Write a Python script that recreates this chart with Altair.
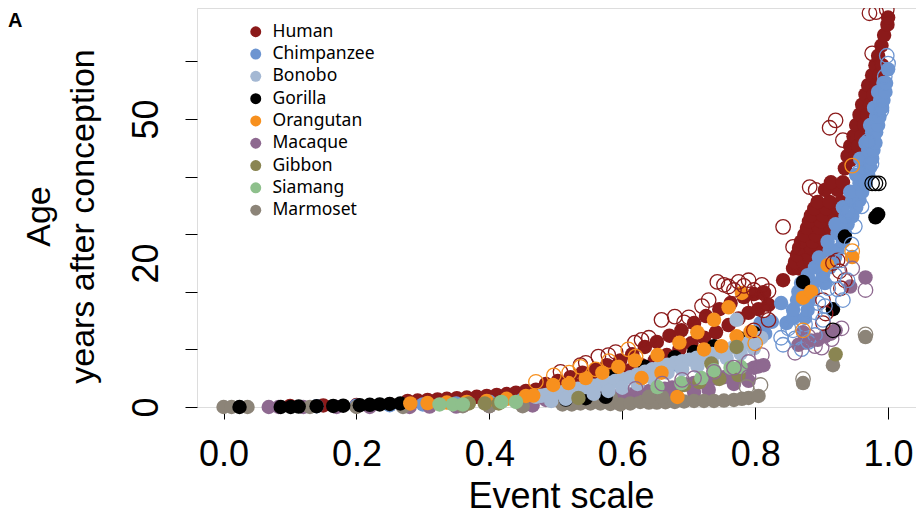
import altair as alt
import pandas as pd

SPECIES = ["Human", "Chimpanzee", "Bonobo", "Gorilla", "Orangutan",
           "Macaque", "Gibbon", "Siamang", "Marmoset"]
COLORS = ["#8B1A1A", "#6D95D1", "#A4B8D3", "#000000", "#F7901E",
          "#8E6990", "#8A8552", "#8EC08C", "#8C8478"]
DRAW_ORDER = ["Human", "Chimpanzee", "Macaque", "Marmoset", "Gorilla",
              "Bonobo", "Orangutan", "Gibbon", "Siamang"]
PANEL_LABEL = ["A"]

X_TICKS = [0.0, 0.2, 0.4, 0.6, 0.8, 1.0]
Y_TICKS = [0, 5.95, 14.88, 20, 25.44, 37.22, 50, 63.6]
Y_LABELS = [0, 20, 50]

# (event scale, age in years after conception)
HUMAN_FILLED = [
    (0.10, 0.03), (0.15, 0.05), (0.20, 0.07), (0.25, 0.1),
    (0.277, 0.3), (0.292, 0.33), (0.307, 0.37), (0.322, 0.41), (0.336, 0.45),
    (0.351, 0.5), (0.366, 0.55), (0.381, 0.6), (0.396, 0.67), (0.411, 0.75),
    (0.426, 0.83), (0.44, 0.95), (0.455, 1.1), (0.47, 1.22),
    (0.485, 1.77), (0.503, 2.07), (0.522, 2.5), (0.540, 3.0), (0.560, 3.4),
    (0.577, 3.9), (0.597, 4.5), (0.615, 5.3), (0.634, 6.3), (0.652, 7.0),
    (0.671, 7.9), (0.689, 8.7), (0.708, 9.8), (0.726, 10.9), (0.746, 12.0),
    (0.763, 13.0), (0.783, 14.0), (0.798, 14.5), (0.8125, 14.7),
    (0.500, 1.18), (0.518, 1.37), (0.537, 1.67), (0.555, 1.97), (0.574, 2.4),
    (0.592, 2.85), (0.612, 3.3), (0.629, 3.9), (0.649, 4.5), (0.667, 5.2),
    (0.686, 5.95), (0.704, 6.8), (0.723, 7.6), (0.741, 8.4), (0.760, 9.5),
    (0.775, 10.5), (0.790, 11.4), (0.805, 12.0), (0.820, 12.7),
    (0.842, 16.9),
    (0.857, 19.0), (0.866, 19.0), (0.875, 19.0),
    (0.860, 20.2), (0.872, 20.2), (0.884, 20.2),
    (0.863, 21.5), (0.881, 21.5), (0.897, 21.5),
    (0.866, 22.8), (0.884, 22.8), (0.900, 22.8),
    (0.869, 24.0), (0.887, 24.0), (0.905, 24.0),
    (0.874, 25.3), (0.891, 25.3), (0.909, 25.3),
    (0.878, 26.7), (0.896, 26.7), (0.914, 26.7),
    (0.881, 28.0), (0.899, 28.0), (0.917, 28.0),
    (0.884, 29.2), (0.902, 29.2), (0.920, 29.2),
    (0.889, 30.6), (0.907, 30.6), (0.925, 30.6),
    (0.894, 31.9), (0.912, 31.9), (0.929, 31.9),
    (0.905, 34.4), (0.924, 34.4),
    (0.914, 36.0), (0.932, 36.0),
    (0.935, 39.0), (0.943, 40.8),
    (0.939, 41.7), (0.943, 43.9), (0.948, 46.1), (0.952, 48.6), (0.957, 51.0),
    (0.961, 53.3), (0.966, 55.7), (0.970, 57.9), (0.976, 60.3), (0.981, 62.7),
    (0.985, 65.0), (0.990, 67.5), (0.994, 70.1), (0.999, 72.7), (1.0, 74.5),
    (0.951, 41.7), (0.955, 43.9), (0.960, 46.1), (0.964, 48.6), (0.969, 51.0),
    (0.973, 53.3), (0.978, 55.7), (0.982, 57.9), (0.987, 60.3), (0.991, 62.7),
]
HUMAN_OPEN = [
    (0.507, 3.1), (0.537, 3.9), (0.545, 4.2), (0.564, 5.0), (0.579, 5.2),
    (0.59, 5.6), (0.619, 6.9), (0.629, 7.3), (0.64, 7.6), (0.659, 10.3),
    (0.679, 10.8), (0.693, 9.9), (0.70, 10.7), (0.72, 12.5), (0.73, 13.5),
    (0.743, 16.6), (0.753, 16.1), (0.76, 15.8), (0.768, 15.2), (0.775, 16.6),
    (0.783, 15.9), (0.79, 16.9), (0.798, 15.2), (0.81, 16.1), (0.8125, 14.7),
    (0.82, 15.0), (0.805, 13.5), (0.80, 13.0), (0.8125, 11.8), (0.82, 10.3),
    (0.798, 8.7),
    (0.972, 75.6), (0.982, 75.9), (0.998, 76.5), (0.976, 65.6), (0.912, 48.0),
    (0.921, 49.7), (0.932, 45.2), (0.882, 35.0), (0.891, 34.4), (0.842, 26.9),
    (0.857, 23.0), (0.927, 18.5), (0.902, 13.5), (0.906, 11.3), (0.902, 9.8),
    (0.917, 20.0), (0.924, 20.5), (0.935, 16.9), (0.929, 15.5),
]
CHIMP_FILLED = [
    (0.14, 0.02), (0.20, 0.04), (0.25, 0.06), (0.30, 0.1), (0.35, 0.15),
    (0.40, 0.25), (0.45, 0.4),
    (0.50, 1.0), (0.56, 1.6), (0.62, 2.6), (0.68, 4.0), (0.73, 5.3), (0.78, 7.0),
    (0.79, 7.4), (0.808, 9.8), (0.81, 9.0), (0.815, 8.2), (0.825, 10.0),
    (0.839, 13.0), (0.847, 9.8),
    (0.857, 10.6), (0.875, 10.6),
    (0.857, 11.9), (0.879, 11.9),
    (0.863, 13.5), (0.881, 13.5),
    (0.865, 14.9), (0.887, 14.9),
    (0.869, 16.4), (0.887, 16.4), (0.905, 16.4),
    (0.879, 17.8), (0.902, 17.8),
    (0.890, 19.2), (0.912, 19.2),
    (0.896, 21.0), (0.920, 21.0),
    (0.912, 22.4), (0.924, 22.4),
    (0.909, 24.0), (0.932, 24.0),
    (0.924, 25.6), (0.935, 25.6),
    (0.921, 27.4), (0.939, 27.4),
    (0.936, 29.0), (0.946, 29.0),
    (0.932, 30.8), (0.952, 30.8),
    (0.946, 32.3), (0.957, 32.3),
    (0.943, 34.0), (0.961, 34.0),
    (0.957, 35.8), (0.966, 35.8),
    (0.952, 37.6), (0.970, 37.6),
    (0.964, 39.2), (0.973, 39.2),
    (0.958, 41.1), (0.976, 41.1),
    (0.970, 43.0), (0.978, 43.0),
    (0.966, 44.6), (0.981, 44.6),
    (0.976, 47.0), (0.982, 47.0),
    (0.973, 48.6), (0.985, 48.6),
    (0.982, 50.5), (0.987, 50.5),
    (0.979, 52.6), (0.991, 52.6),
    (0.988, 54.4), (0.993, 54.4),
    (0.985, 56.3), (0.996, 56.3),
    (0.993, 58.4), (0.997, 58.4),
    (1.0, 61.7),
]
CHIMP_OPEN = [
    (0.839, 7.6), (0.857, 8.7), (0.842, 6.6), (0.924, 15.3), (0.939, 16.9),
    (0.932, 13.5), (1.0, 63.1), (0.998, 65.0), (0.89, 8.0), (0.902, 10.3),
    (0.92, 17.8), (0.87, 6.0), (0.88, 7.0), (0.89, 11.5), (0.905, 12.5),
    (0.955, 38.0), (0.97, 45.0), (0.94, 30.0),
    (0.85, 9.0), (0.86, 7.5), (0.875, 9.6), (0.895, 13.0), (0.91, 15.5),
    (0.93, 20.5), (0.945, 23.5), (0.95, 27.0), (0.96, 31.0), (0.965, 36.0),
    (0.975, 40.0), (0.99, 52.0), (0.995, 60.0),
]
BONOBO_FILLED = [
    (0.47, 0.6), (0.478, 0.68), (0.485, 0.75), (0.5, 0.9), (0.511, 1.0),
    (0.522, 1.18), (0.533, 1.3), (0.545, 1.47), (0.556, 1.6), (0.567, 1.77),
    (0.578, 1.9), (0.589, 2.07), (0.6, 2.3), (0.612, 2.5), (0.623, 2.8),
    (0.634, 3.1), (0.645, 3.4), (0.656, 3.7), (0.668, 3.95), (0.679, 4.2),
    (0.69, 4.4), (0.701, 4.6), (0.712, 4.85), (0.723, 5.1), (0.735, 5.35),
    (0.746, 5.6), (0.757, 5.95), (0.768, 6.3), (0.779, 6.6), (0.79, 6.9),
    (0.80, 7.2), (0.809, 7.6),
    (0.493, 0.3), (0.515, 0.45), (0.557, 0.85), (0.579, 1.1), (0.60, 1.4),
    (0.623, 1.77), (0.646, 2.35), (0.668, 3.0), (0.69, 3.4), (0.713, 3.8),
    (0.735, 4.3), (0.757, 4.8), (0.778, 5.4), (0.798, 6.1),
    (0.772, 10.3),
]
GORILLA_FILLED = [
    (0.024, 0.0), (0.086, 0.0), (0.101, 0.0), (0.113, 0.01), (0.140, 0.02),
    (0.165, 0.03), (0.18, 0.04), (0.205, 0.06), (0.22, 0.08), (0.235, 0.1),
    (0.25, 0.12), (0.266, 0.15),
    (0.515, 0.4), (0.545, 0.5), (0.575, 0.6),
    (0.589, 2.7), (0.634, 3.7), (0.679, 4.9), (0.708, 5.6), (0.738, 6.4),
    (0.775, 7.6), (0.798, 8.3),
    (0.872, 16.6), (0.935, 25.0), (0.981, 28.8), (0.985, 29.4), (0.917, 12.0),
]
GORILLA_OPEN = [
    (0.976, 35.8), (0.981, 35.8), (0.986, 35.8), (0.917, 8.7),
]
ORANGUTAN_FILLED = [
    (0.281, 0.15), (0.307, 0.17), (0.336, 0.2), (0.366, 0.24), (0.396, 0.3),
    (0.426, 0.45), (0.455, 0.67), (0.466, 0.7),
    (0.496, 1.67), (0.519, 1.87), (0.545, 2.4), (0.570, 3.0), (0.594, 3.7),
    (0.619, 4.5), (0.653, 5.2), (0.686, 6.9), (0.713, 8.4), (0.738, 10.3),
    (0.760, 12.3), (0.780, 14.7), (0.629, 2.4), (0.659, 3.0), (0.683, 0.59),
    (0.723, 5.95), (0.749, 6.4), (0.772, 7.8), (0.793, 8.5),
    (0.872, 13.9), (0.884, 14.9), (0.909, 19.6), (0.946, 21.1),
]
ORANGUTAN_OPEN = [
    (0.497, 2.7), (0.537, 3.7), (0.609, 5.95), (0.80, 6.8), (0.946, 22.2),
    (0.872, 8.7), (0.946, 39.6), (0.47, 2.0), (0.52, 3.0), (0.56, 3.4),
    (0.58, 4.4), (0.62, 5.0),
]
MACAQUE_FILLED = [
    (0.068, 0.0), (0.083, 0.0), (0.12, 0.0), (0.17, 0.0), (0.22, 0.0),
    (0.28, 0.0), (0.31, 0.01), (0.35, 0.01), (0.40, 0.02), (0.45, 0.05),
    (0.465, 0.05),
    (0.485, 0.37), (0.496, 0.37), (0.507, 0.37), (0.518, 0.4), (0.530, 0.45),
    (0.541, 0.48), (0.552, 0.52), (0.563, 0.55), (0.574, 0.59), (0.585, 0.67),
    (0.597, 0.75), (0.608, 0.82), (0.619, 0.9), (0.63, 1.0), (0.641, 1.1),
    (0.652, 1.2), (0.664, 1.3), (0.675, 1.43), (0.686, 1.57), (0.697, 1.72),
    (0.708, 1.87), (0.72, 2.0), (0.731, 2.18), (0.742, 2.35), (0.753, 2.5),
    (0.764, 2.75), (0.775, 3.0), (0.787, 3.3), (0.798, 3.6), (0.805, 3.75),
    (0.8125, 3.9),
    (0.589, 0.24), (0.61, 0.3), (0.649, 0.52), (0.67, 0.6), (0.708, 1.0),
    (0.73, 1.2), (0.768, 1.77), (0.79, 2.1),
    (0.865, 6.6), (0.875, 6.9), (0.884, 7.2), (0.894, 7.3), (0.905, 7.8),
    (0.914, 8.2), (0.921, 8.7), (0.872, 8.4), (0.943, 15.8), (0.966, 17.4),
]
MACAQUE_OPEN = [
    (0.708, 2.4), (0.738, 3.1), (0.768, 3.6), (0.790, 4.3), (0.81, 5.2),
    (0.966, 15.2), (0.946, 19.0), (0.66, 1.8), (0.69, 2.2), (0.62, 1.3),
    (0.79, 2.5), (0.86, 5.5), (0.9, 6.2), (0.88, 7.8), (0.89, 6.4),
    (0.915, 7.4), (0.93, 9.0),
]
GIBBON_FILLED = [
    (0.369, 0.15), (0.393, 0.15), (0.414, 0.15),
    (0.534, 0.52), (0.734, 4.1), (0.772, 6.3), (0.693, 1.67), (0.716, 1.97),
    (0.746, 2.3), (0.775, 2.73),
    (0.921, 5.3),
]
SIAMANG_FILLED = [
    (0.325, 0.1), (0.345, 0.1), (0.36, 0.1), (0.418, 0.24), (0.44, 0.24),
    (0.653, 1.47), (0.689, 1.87), (0.719, 2.4), (0.738, 3.3), (0.763, 3.6),
    (0.778, 3.7),
]
MARMOSET_FILLED = [
    (0.0, 0.0), (0.012, 0.0), (0.036, 0.0), (0.13, 0.0), (0.2, 0.0),
    (0.27, 0.0), (0.36, 0.02), (0.4, 0.02), (0.45, 0.02),
    (0.51, 0.1), (0.524, 0.1), (0.537, 0.15), (0.552, 0.15), (0.567, 0.15),
    (0.582, 0.12), (0.597, 0.1), (0.612, 0.15), (0.627, 0.24), (0.64, 0.2),
    (0.652, 0.2), (0.665, 0.22), (0.679, 0.24), (0.693, 0.27), (0.708, 0.3),
    (0.723, 0.3), (0.738, 0.3), (0.753, 0.33), (0.768, 0.37), (0.78, 0.45),
    (0.79, 0.52), (0.805, 0.67), (0.583, 0.52), (0.64, 0.6), (0.66, 0.59),
    (0.917, 3.9), (0.966, 7.7), (0.872, 1.87),
]
MARMOSET_OPEN = [
    (0.872, 2.3), (0.966, 8.1), (0.787, 1.47), (0.808, 1.67),
]

FILLED = {
    "Human": HUMAN_FILLED, "Chimpanzee": CHIMP_FILLED, "Bonobo": BONOBO_FILLED,
    "Gorilla": GORILLA_FILLED, "Orangutan": ORANGUTAN_FILLED,
    "Macaque": MACAQUE_FILLED, "Gibbon": GIBBON_FILLED,
    "Siamang": SIAMANG_FILLED, "Marmoset": MARMOSET_FILLED,
}
OPEN = {
    "Human": HUMAN_OPEN, "Chimpanzee": CHIMP_OPEN, "Gorilla": GORILLA_OPEN,
    "Orangutan": ORANGUTAN_OPEN, "Macaque": MACAQUE_OPEN,
    "Marmoset": MARMOSET_OPEN,
}

rows = []
for sp in DRAW_ORDER:
    for ev, ag in FILLED.get(sp, []):
        rows.append({"species": sp, "event": ev, "age": ag, "kind": "filled"})
for sp in DRAW_ORDER:
    for ev, ag in OPEN.get(sp, []):
        rows.append({"species": sp, "event": ev, "age": ag, "kind": "open"})
df = pd.DataFrame(rows)

label_test = " || ".join(f"datum.value == {v}" for v in Y_LABELS)

x_enc = alt.X(
    "event:Q",
    scale=alt.Scale(domain=[-0.04, 1.042], nice=False, zero=False),
    axis=alt.Axis(
        values=X_TICKS, format=".1f", title="Event scale", grid=False,
        domain=False, tickSize=12, tickColor="black", tickWidth=1,
        labelFont="Liberation Sans", labelFontSize=36, labelColor="black",
        labelPadding=46, labelBaseline="alphabetic", labelFlush=False,
        labelOverlap=False,
        titleFont="Liberation Sans", titleFontSize=36, titleFontWeight="normal",
        titleColor="black", titleBaseline="alphabetic", titleY=100,
        titleX=364,
    ),
)
y_enc = alt.Y(
    "age:Q",
    scale=alt.Scale(type="pow", exponent=0.7565, domain=[0, 76.93], nice=False),
    axis=alt.Axis(
        values=Y_TICKS,
        labelExpr=f"({label_test}) ? format(datum.value, 'd') : ''",
        tickOpacity={"condition": {"test": "datum.value == 20", "value": 0}, "value": 1},
        grid=False, domain=False, tickSize=12, tickColor="black", tickWidth=1,
        labelAngle=270, labelAlign="center", labelBaseline="alphabetic",
        labelFont="Liberation Sans", labelFontSize=36, labelColor="black",
        labelPadding=28, labelOverlap=False, labelFlush=False,
        title=["Age", "years after conception"],
        titleFont="Liberation Sans", titleFontSize=34, titleFontWeight="normal",
        titleColor="black", titleAngle=270, titleAlign="center",
        titleBaseline="alphabetic", titleLineHeight=44, titleX=-148, titleY=208,
    ),
)
color_scale = alt.Scale(domain=SPECIES, range=COLORS)

base = alt.Chart(df).encode(x=x_enc, y=y_enc)

filled = base.transform_filter(alt.datum.kind == "filled").mark_circle(
    size=210, opacity=1
).encode(
    color=alt.Color(
        "species:N", scale=color_scale,
        legend=alt.Legend(
            orient="none", legendX=50, legendY=15, title=None,
            labelFont="Noto Sans", labelFontSize=17.5, labelColor="black",
            symbolType="circle", symbolSize=120, symbolStrokeWidth=0,
            symbolOpacity=1, rowPadding=3.3, labelOffset=8, padding=0,
        ),
    )
)
opened = base.transform_filter(alt.datum.kind == "open").mark_point(
    shape="circle", filled=False, size=210, strokeWidth=1.3, opacity=1
).encode(
    color=alt.Color("species:N", scale=color_scale, legend=None)
)

panel = alt.Chart(pd.DataFrame({"label": PANEL_LABEL})).mark_text(
    font="Liberation Sans", fontSize=20, fontWeight="bold", color="black",
    align="left", baseline="alphabetic",
).encode(text="label:N", x=alt.value(-189), y=alt.value(19))

chart = alt.layer(filled, opened, panel).properties(
    width=719, height=399,
    autosize=alt.AutoSizeParams(type="none"),
    padding={"left": 189, "top": 0, "right": 0, "bottom": 107},
).configure_view(stroke="black", strokeWidth=1).configure(background="white")

chart.save("out.html", embed_options={"renderer": "svg", "actions": False})
